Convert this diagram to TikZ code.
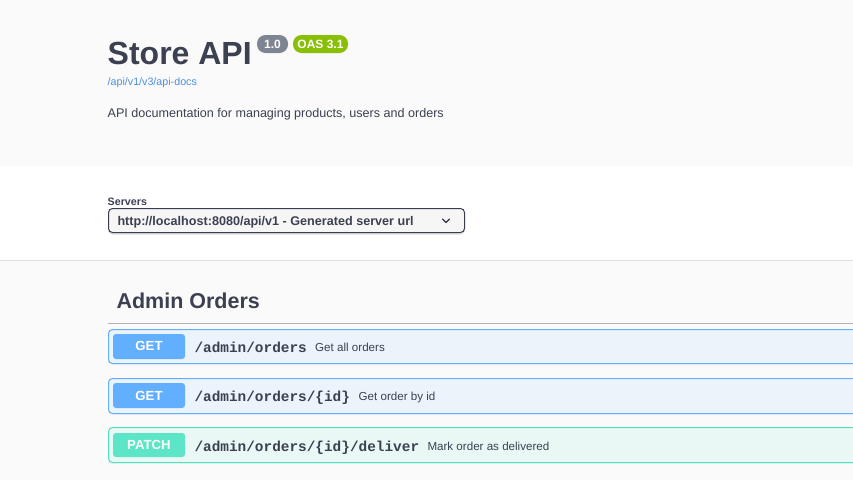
\documentclass[tikz,border=0pt]{standalone}
\usepackage{fontspec}
\setmainfont{Liberation Sans}
\newfontfamily\pathfont{Liberation Mono}
\definecolor{ink}{HTML}{3B4151}
\definecolor{pagebg}{HTML}{FAFAFA}
\definecolor{rulec}{HTML}{DDDDDD}
\definecolor{getc}{HTML}{61AFFE}
\definecolor{getbg}{HTML}{EBF3FB}
\definecolor{patchc}{HTML}{50E3C2}
\definecolor{patchbg}{HTML}{E9F8F5}
\definecolor{patchfill}{HTML}{5CE5C6}
\definecolor{linkc}{HTML}{4990E2}
\definecolor{vergrey}{HTML}{7D8492}
\definecolor{oasgreen}{HTML}{89BF04}
\tikzset{
  txt/.style={anchor=base west,inner sep=0pt,outer sep=0pt,text=ink},
  badge/.style={anchor=center,inner sep=0pt,text=white,font=\fontsize{12}{12}\selectfont\bfseries},
  opblock/.style={draw=#1,line width=1pt,rounded corners=4pt},
  method/.style={fill=#1,rounded corners=3pt},
  methodtxt/.style={anchor=base,inner sep=0pt,text=white,font=\fontsize{13.2}{14}\selectfont\bfseries},
  pathtxt/.style={txt,font=\fontsize{14.4}{14}\pathfont\bfseries},
  desctxt/.style={txt,font=\fontsize{11.6}{13}\selectfont},
}
\begin{document}
\begin{tikzpicture}[x=1pt,y=-1pt]
\useasboundingbox (0,0) rectangle (853,480);
\fill[pagebg] (0,0) rectangle (853,480);
\fill[white] (0,166) rectangle (853,260);
\fill[rulec] (0,260) rectangle (853,261);
% header
\node[txt,font=\fontsize{32}{36}\selectfont\bfseries] (title) at (107.7,64) {Store API};
\fill[vergrey,rounded corners=8.5pt] (257,35) rectangle (288,53);
\node[badge] (ver) at (272.5,44) {1.0};
\fill[oasgreen,rounded corners=8.5pt] (293,35) rectangle (348,53);
\node[badge] (oas) at (320.5,44) {OAS 3.1};
\node[txt,text=linkc,font=\fontsize{10.7}{12}\selectfont] (link) at (107.7,85) {/api/v1/v3/api-docs};
\node[txt,font=\fontsize{12.57}{14}\selectfont] (desc) at (107.7,117) {API documentation for managing products, users and orders};
% servers
\node[txt,font=\fontsize{10.7}{12}\selectfont\bfseries] (srv) at (107.7,205) {Servers};
\fill[black!12] (108,210) [rounded corners=4pt] rectangle (465,234.5);
\draw[draw=ink!95!black,fill=white!96.5!black,line width=1pt,rounded corners=4pt] (108.5,208.5) rectangle (464.5,232.5);
\node[txt,font=\fontsize{12.6}{14}\selectfont\bfseries] (url) at (117.5,225) {http://localhost:8080/api/v1 - Generated server url};
\draw[ink!80!black,line width=1.3pt,line cap=round,line join=round] (442.5,219) -- (446,222.5) -- (449.5,219);
% section
\node[txt,font=\fontsize{21.5}{24}\selectfont\bfseries] (sec) at (116.5,308) {Admin Orders};
\fill[black!30] (108,323) rectangle (853,324);
% operations
\begin{scope}
\clip (100,320) rectangle (853,480);
\fill[black!5] (108,331) [rounded corners=4pt] rectangle (870,365);
\fill[black!5] (108,380) [rounded corners=4pt] rectangle (870,415);
\fill[black!5] (108,429.5) [rounded corners=4pt] rectangle (870,464);
\draw[opblock=getc,fill=getbg] (108.5,329.5) rectangle (870,363.5);
\draw[opblock=getc,fill=getbg] (108.5,378.5) rectangle (870,413.5);
\draw[opblock=patchc,fill=patchbg] (108.5,427.5) rectangle (870,462.5);
\end{scope}
\fill[method=getc] (113,334) rectangle (185,359);
\node[methodtxt] (m1) at (149,350.5) {GET};
\fill[method=getc] (113,383) rectangle (185,408);
\node[methodtxt] (m2) at (149,400) {GET};
\fill[method=patchfill] (113,433) rectangle (185,457);
\node[methodtxt] (m3) at (149,449) {PATCH};
\node[pathtxt] (p1) at (194.5,352) {/admin/orders};
\node[desctxt] (d1) at (315.2,351) {Get all orders};
\node[pathtxt] (p2) at (194.5,401) {/admin/orders/\{id\}};
\node[desctxt] (d2) at (358.7,400) {Get order by id};
\node[pathtxt] (p3) at (194.5,451) {/admin/orders/\{id\}/deliver};
\node[desctxt] (d3) at (427.5,450) {Mark order as delivered};
\end{tikzpicture}
\end{document}
